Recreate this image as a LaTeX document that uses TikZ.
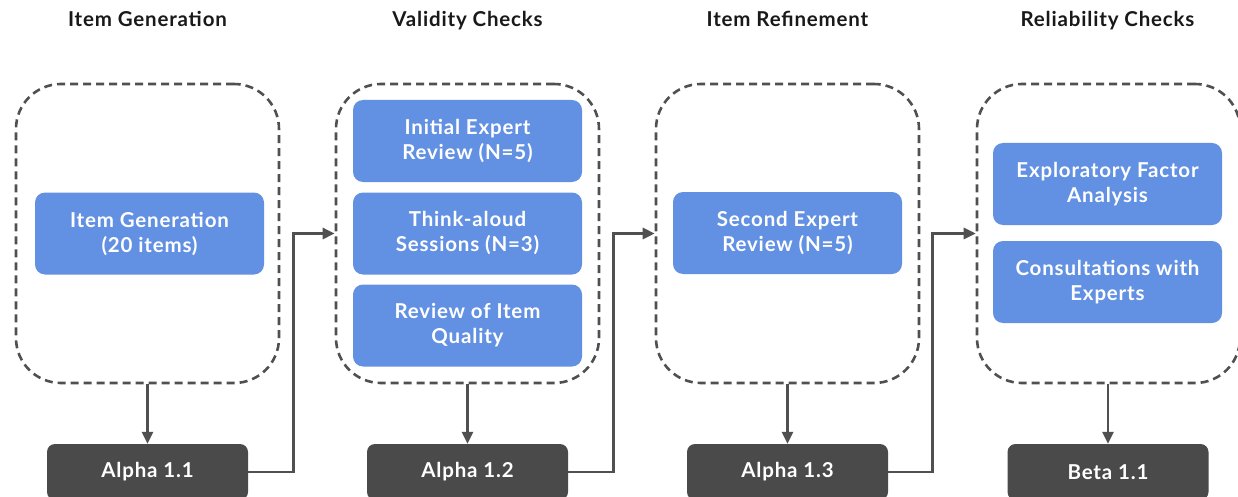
\documentclass[tikz,border=0pt]{standalone}
\usepackage{fontspec}
\setmainfont{Lato}[LetterSpace=4]
\usetikzlibrary{arrows.meta}
\definecolor{bluebox}{RGB}{98,144,227}
\definecolor{darkbox}{RGB}{74,74,74}
\definecolor{lineclr}{RGB}{80,80,80}
\tikzset{
  grp/.style={draw=lineclr, line width=2.6pt, dash pattern=on 8pt off 5pt, rounded corners=45pt, minimum width=263pt, minimum height=299pt, inner sep=0pt},
  bluebx/.style={fill=bluebox, rounded corners=10pt, minimum width=229pt, minimum height=82pt, text=white, align=center, font=\fontsize{20.5}{25}\selectfont\bfseries, inner sep=0pt},
  darkbx/.style={fill=darkbox, rounded corners=8pt, minimum width=201pt, minimum height=56pt, text=white, font=\fontsize{20.5}{25}\selectfont\bfseries, inner sep=0pt},
  ttl/.style={text=black!90, font=\fontsize{20.5}{25}\selectfont\bfseries, inner sep=0pt, anchor=base},
  conn/.style={draw=lineclr, line width=2.6pt, -{Triangle[length=12pt,width=11pt]}}
}
\begin{document}
\begin{tikzpicture}[x=1pt,y=-1pt]
\useasboundingbox (0,0) rectangle (1238,497);
% titles
\node[ttl] (t1) at (147.5,26.5) {Item Generation};
\node[ttl] (t2) at (467.5,26.5) {Validity Checks};
\node[ttl] (t3) at (787.5,26.5) {Item Refinement};
\node[ttl] (t4) at (1107.5,26.5) {Reliability Checks};
% groups
\node[grp] (g1) at (147.5,233.5) {};
\node[grp] (g2) at (467.5,233.5) {};
\node[grp] (g3) at (787.5,233.5) {};
\node[grp] (g4) at (1108.5,233.5) {};
% blue boxes
\node[bluebx] (b1) at (149.5,233.5) {Item Generation\\(20 items)};
\node[bluebx] (b2a) at (467.5,141) {Initial Expert\\Review (N=5)};
\node[bluebx] (b2b) at (467.5,233.5) {Think-aloud\\Sessions (N=3)};
\node[bluebx] (b2c) at (467.5,325.5) {Review of Item\\Quality};
\node[bluebx] (b3) at (787.5,233) {Second Expert\\Review (N=5)};
\node[bluebx] (b4a) at (1107.5,184) {Exploratory Factor\\Analysis};
\node[bluebx] (b4b) at (1107.5,282) {Consultations with\\Experts};
% dark boxes
\node[darkbx] (a1) at (147.5,472) {Alpha 1.1};
\node[darkbx] (a2) at (467.5,472) {Alpha 1.2};
\node[darkbx] (a3) at (787.5,472) {Alpha 1.3};
\node[darkbx] (a4) at (1108,472) {Beta 1.1};
% connectors
\draw[conn] (g1.south) -- (a1.north);
\draw[conn] (g2.south) -- (a2.north);
\draw[conn] (g3.south) -- (a3.north);
\draw[conn] (g4.south -| a4.north) -- (a4.north);
\draw[conn] (a1.east) -- ++(45,0) |- (g2.west);
\draw[conn] (a2.east) -- ++(45,0) |- (g3.west);
\draw[conn] (a3.east) -- ++(44,0) |- (g4.west);
\end{tikzpicture}
\end{document}
